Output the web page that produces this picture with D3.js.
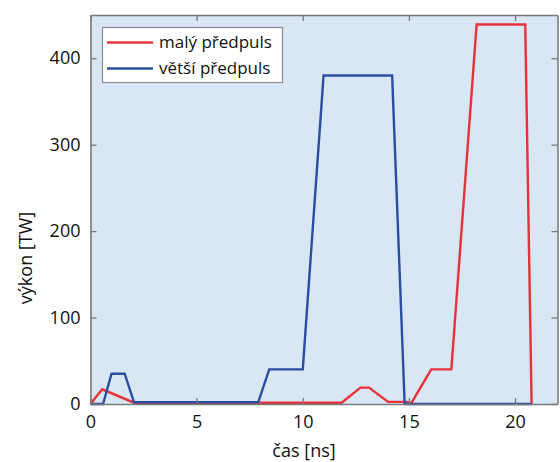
<!DOCTYPE html>
<html lang="cs">
<head>
<meta charset="UTF-8">
<title>výkon předpulsu</title>
<script src="https://d3js.org/d3.v7.min.js"></script>
<style>
  body { margin: 0; background: #fff; }
  text { font-family: "Open Sans", "Noto Sans", sans-serif; fill: #111; }
</style>
</head>
<body>
<svg width="560" height="462"></svg>
<script>
// data
const timeSmall = [0, 0.55, 2.05, 11.83, 12.72, 13.12, 14.02, 14.93, 15.1, 16.05, 17.0, 18.19, 20.48, 20.78];
const powerSmall = [0, 17, 1.5, 1.5, 19, 19, 2.5, 2.5, 0.5, 40, 40, 439, 439, 0];
const timeLarge = [0, 0.59, 0.99, 1.61, 2.05, 7.9, 8.42, 10.0, 10.98, 14.21, 14.8, 20.78];
const powerLarge = [0, 0, 35, 35, 2, 2, 40, 40, 380, 380, 0, 0];
const xTicks = [0, 5, 10, 15, 20];
const yTicks = [0, 100, 200, 300, 400];
const seriesNames = ["malý předpuls", "větší předpuls"];
const seriesColors = ["#e8313a", "#2b4ea2"];

const svg = d3.select("svg");
const plotLeft = 90.5, plotRight = 557.5, plotTop = 15, plotBottom = 404;

const x = d3.scaleLinear().domain([0, 22]).range([plotLeft, plotRight]);
const y = d3.scaleLinear().domain([0, 450]).range([plotBottom, plotTop]);

// plot background
svg.append("rect")
    .attr("x", plotLeft).attr("y", plotTop)
    .attr("width", plotRight - plotLeft).attr("height", plotBottom - plotTop)
    .attr("fill", "#d9e6f4");

// lines
const line = d3.line().x(d => x(d[0])).y(d => y(d[1]));
const series = [
    d3.zip(timeSmall, powerSmall),
    d3.zip(timeLarge, powerLarge)
];
series.forEach((pts, i) => {
    svg.append("path")
        .datum(pts)
        .attr("d", line)
        .attr("fill", "none")
        .attr("stroke", seriesColors[i])
        .attr("stroke-width", 2.4)
        .attr("stroke-linejoin", "miter");
});

// frame with inward ticks on all sides
const axisColor = "#7a7a7a";
const xb = svg.append("g").attr("transform", `translate(0,${plotBottom})`)
    .call(d3.axisBottom(x).tickValues(xTicks).tickSizeInner(-6).tickSizeOuter(0).tickPadding(12));
const xt = svg.append("g").attr("transform", `translate(0,${plotTop})`)
    .call(d3.axisTop(x).tickValues(xTicks).tickSizeInner(-6).tickSizeOuter(0).tickFormat(""));
const yl = svg.append("g").attr("transform", `translate(${plotLeft},0)`)
    .call(d3.axisLeft(y).tickValues(yTicks).tickSizeInner(-6).tickSizeOuter(0).tickPadding(10));
const yr = svg.append("g").attr("transform", `translate(${plotRight},0)`)
    .call(d3.axisRight(y).tickValues(yTicks).tickSizeInner(-6).tickSizeOuter(0).tickFormat(""));

[xb, xt, yl, yr].forEach(g => {
    g.selectAll("path").attr("stroke", axisColor).attr("stroke-width", 1.6);
    g.selectAll("line").attr("stroke", axisColor).attr("stroke-width", 1.3);
    g.selectAll("text").style("font-size", "18px").attr("fill", "#111");
});
xb.selectAll("text").attr("dy", "0.68em");

// axis titles
svg.append("text")
    .attr("x", 304).attr("y", 457)
    .attr("text-anchor", "middle")
    .style("font-size", "18px")
    .text("čas [ns]");

svg.append("text")
    .attr("transform", "translate(32,258) rotate(-90)")
    .attr("text-anchor", "middle")
    .style("font-size", "18px")
    .text("výkon [TW]");

// legend
const legend = svg.append("g");
legend.append("rect")
    .attr("x", 102.5).attr("y", 27.5)
    .attr("width", 180).attr("height", 55)
    .attr("fill", "#fff")
    .attr("stroke", "#8a8a8a")
    .attr("stroke-width", 1.2);
seriesNames.forEach((name, i) => {
    const ly = 42.5 + i * 26;
    legend.append("line")
        .attr("x1", 107).attr("x2", 153)
        .attr("y1", ly).attr("y2", ly)
        .attr("stroke", seriesColors[i])
        .attr("stroke-width", 2.4);
    legend.append("text")
        .attr("x", 159).attr("y", ly)
        .attr("dy", "0.35em")
        .style("font-size", "17px")
        .text(name);
});
</script>
</body>
</html>
